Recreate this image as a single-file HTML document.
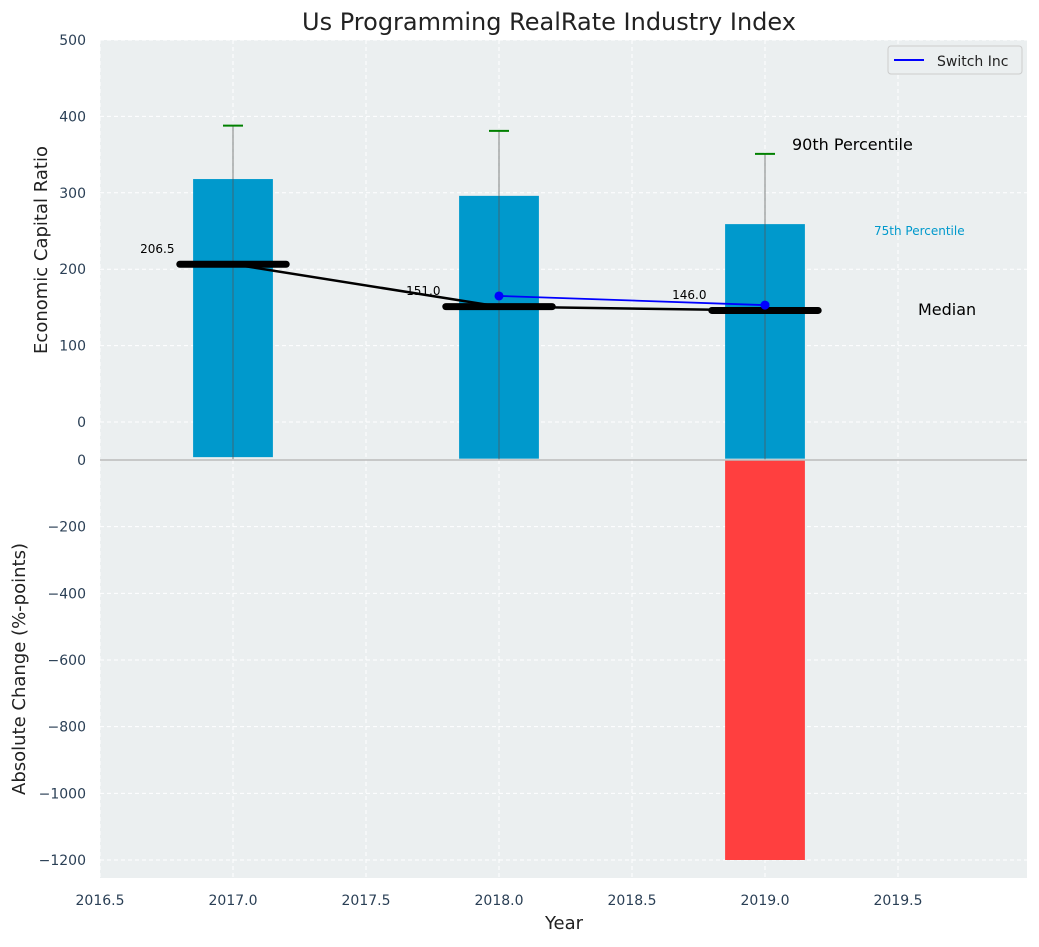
<!DOCTYPE html>
<html><head><meta charset="utf-8"><style>
body{margin:0;background:#fff;}
svg text{font-family:"DejaVu Sans","Liberation Sans",sans-serif;}
</style></head><body>
<svg id="chart" width="1039" height="942" viewBox="0 0 1039 942" xmlns="http://www.w3.org/2000/svg">
<text x="549" y="30" font-size="24" text-anchor="middle" fill="#222">Us Programming RealRate Industry Index</text>
<g id="g"></g>
</svg>
<script>
const years=[2017,2018,2019];
const p75=[318,296,259];
const p90=[388,381,351];
const medians=[206.5,151.0,146.0];
const barBase=[-46,-48,-48];
const switchYears=[2018,2019];
const switchVals=[165,153];
const changes=[0,0,-1200];
const xTicks=[2016.5,2017.0,2017.5,2018.0,2018.5,2019.0,2019.5];
const topTicks=[0,100,200,300,400,500];
const botTicks=[0,-200,-400,-600,-800,-1000,-1200];

const L=100,R=1027,T1=40,B1=460,T2=460,B2=878;
const xs=v=>233+(v-2017)*266;
const yt=v=>422-v*0.764;
const yb=v=>460-v*(400/1200);
const g=document.getElementById('g');
const NS='http://www.w3.org/2000/svg';
function el(t,a,txt){const e=document.createElementNS(NS,t);for(const k in a)e.setAttribute(k,a[k]);if(txt!=null)e.textContent=txt;g.appendChild(e);return e;}

let e;
e=el('rect',{x:L,y:T1,width:R-L,height:B1-T1,fill:'#ebeff0'});


e=el('rect',{x:L,y:T2,width:R-L,height:B2-T2,fill:'#ebeff0'});


xTicks.forEach(v=>{
 e=el('line',{x1:xs(v),x2:xs(v),y1:T1,y2:B2,stroke:'#fff','stroke-dasharray':'4,3','stroke-width':1});
 
 
 e=el('text',{x:xs(v),y:905,'font-size':14,'text-anchor':'middle',fill:'#2a3f55'},v.toFixed(1));
 
 
});
topTicks.forEach(v=>{
 e=el('line',{x1:L,x2:R,y1:yt(v),y2:yt(v),stroke:'#fff','stroke-dasharray':'4,3'});
 
 
 e=el('text',{x:86,y:yt(v)+5,'font-size':14,'text-anchor':'end',fill:'#2a3f55'},v);
 
 
});
botTicks.forEach(v=>{
 e=el('line',{x1:L,x2:R,y1:yb(v),y2:yb(v),stroke:'#fff','stroke-dasharray':'4,3'});
 
 
 e=el('text',{x:86,y:yb(v)+5,'font-size':14,'text-anchor':'end',fill:'#2a3f55'},v<0?'\u2212'+(-v):v);
 
 
});
years.forEach((y,i)=>{
 e=el('rect',{x:xs(y-0.15),y:yt(p75[i]),width:0.3*266,height:yt(barBase[i])-yt(p75[i]),fill:'#0099cc'});
 
 
 e=el('line',{x1:xs(y),x2:xs(y),y1:yt(barBase[i])+2,y2:yt(p90[i]),stroke:'#555','stroke-opacity':0.6,'stroke-width':1.2});
 
 
 e=el('line',{x1:xs(y)-10,x2:xs(y)+10,y1:yt(p90[i]),y2:yt(p90[i]),stroke:'green','stroke-width':2});
 
 
 if(changes[i]!==0){
  e=el('rect',{x:xs(y-0.15),y:yb(0),width:0.3*266,height:yb(changes[i])-yb(0),fill:'#ff3f3f'});
  
  
 }
});
e=el('polyline',{points:years.map((y,i)=>xs(y)+','+yt(medians[i])).join(' '),fill:'none',stroke:'#000','stroke-width':2.5});


years.forEach((y,i)=>{
 e=el('line',{x1:xs(y-0.2),x2:xs(y+0.2),y1:yt(medians[i]),y2:yt(medians[i]),stroke:'#000','stroke-width':7,'stroke-linecap':'round'});
 
 
 e=el('text',{x:xs(y-0.22),y:yt(medians[i]+15),'font-size':12,'text-anchor':'end',fill:'#000'},medians[i].toFixed(1));
 
 
});
e=el('polyline',{points:switchYears.map((y,i)=>xs(y)+','+yt(switchVals[i])).join(' '),fill:'none',stroke:'#0000ff','stroke-width':1.8});


switchYears.forEach((y,i)=>{
 e=el('circle',{cx:xs(y),cy:yt(switchVals[i]),r:4.5,fill:'#0000ff'});
 
 
});
e=el('line',{x1:L,x2:R,y1:460,y2:460,stroke:'#bbb','stroke-width':1.5});


e=el('text',{x:792,y:150,'font-size':16,fill:'#000'},'90th Percentile');


e=el('text',{x:874,y:235,'font-size':12,fill:'#0099cc'},'75th Percentile');


e=el('text',{x:918,y:315,'font-size':16,fill:'#000'},'Median');


e=el('text',{x:564,y:929,'font-size':18,'text-anchor':'middle',fill:'#222'},'Year');


e=el('text',{x:0,y:0,'font-size':18,'text-anchor':'middle',fill:'#222',transform:'translate(47,250) rotate(-90)'},'Economic Capital Ratio');


e=el('text',{x:0,y:0,'font-size':18,'text-anchor':'middle',fill:'#222',transform:'translate(25,669) rotate(-90)'},'Absolute Change (%-points)');


e=el('rect',{x:888,y:46,width:134,height:28,fill:'#ebeff0',stroke:'#ccc',rx:3});


e=el('line',{x1:894,x2:924,y1:60,y2:60,stroke:'#0000ff','stroke-width':2});


e=el('text',{x:937,y:66,'font-size':14,fill:'#222'},'Switch Inc');


</script>
</body></html>
